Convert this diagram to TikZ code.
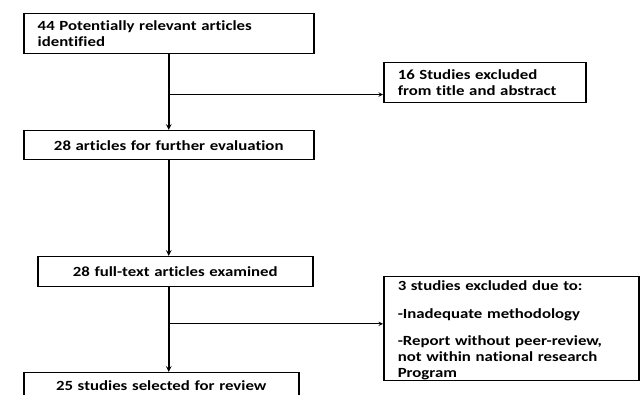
\documentclass[tikz,border=0pt]{standalone}
\usepackage{fontspec}
\setsansfont{Carlito}[FakeStretch=1.2,RawFeature=-liga]
\usetikzlibrary{arrows,calc}

\begin{document}
\begin{tikzpicture}[x=1pt,y=-1pt,>=stealth,block/.style ={rectangle, draw=black, line width=1.5pt, anchor=north west, inner xsep=14pt, inner ysep=0pt, font=\sffamily\bfseries\fontsize{14}{16}\selectfont},spine/.style={line width=1.6pt},side/.style={line width=1pt}]%,xscale=0.75]
\useasboundingbox (0,0) rectangle (641,395);
\draw (23,13) node[block,text width=262pt,align=left,minimum height=40pt] (A) {44 Potentially relevant articles\\identified};
\draw (383,62) node[block,text width=174pt,align=left,minimum height=40pt] (C) {16 Studies excluded\\from title and abstract};
\draw (23,130) node[block,text width=262pt,align=center,minimum height=29pt] (B) {28 articles for further evaluation};
\draw (37,256) node[block,text width=247pt,align=center,minimum height=30pt] (D) {28 full-text articles examined};
\draw (383,276) node[block,minimum width=255pt,minimum height=104pt] (E) {};
\draw ($(E.center)+(0,2)$) node[block,draw=none,anchor=center,text width=227pt,align=left] (Etext) {3 studies excluded due to:\\[12pt]-Inadequate methodology\\[11pt]-Report without peer-review,\\not within national research\\Program};
\draw (23,372) node[block,text width=247pt,align=center,minimum height=26pt] (F) {25 studies selected for review};
\coordinate (j1) at ($(A.south)!0.53!(B.north)$);
\coordinate (j2) at ($(A.south |- D.south)!0.43!(A.south |- F.north)$);
\draw[->,spine] (A.south)--(A.south |- B.north);
\draw[->,spine] (A.south |- B.south)--(A.south |- D.north);
\draw[->,spine] (A.south |- D.south)--(A.south |- F.north);
\draw[->,side] (j1)--(j1 -| C.west);
\draw[->,side] (j2)--(j2 -| E.west);
\end{tikzpicture}
\end{document}
